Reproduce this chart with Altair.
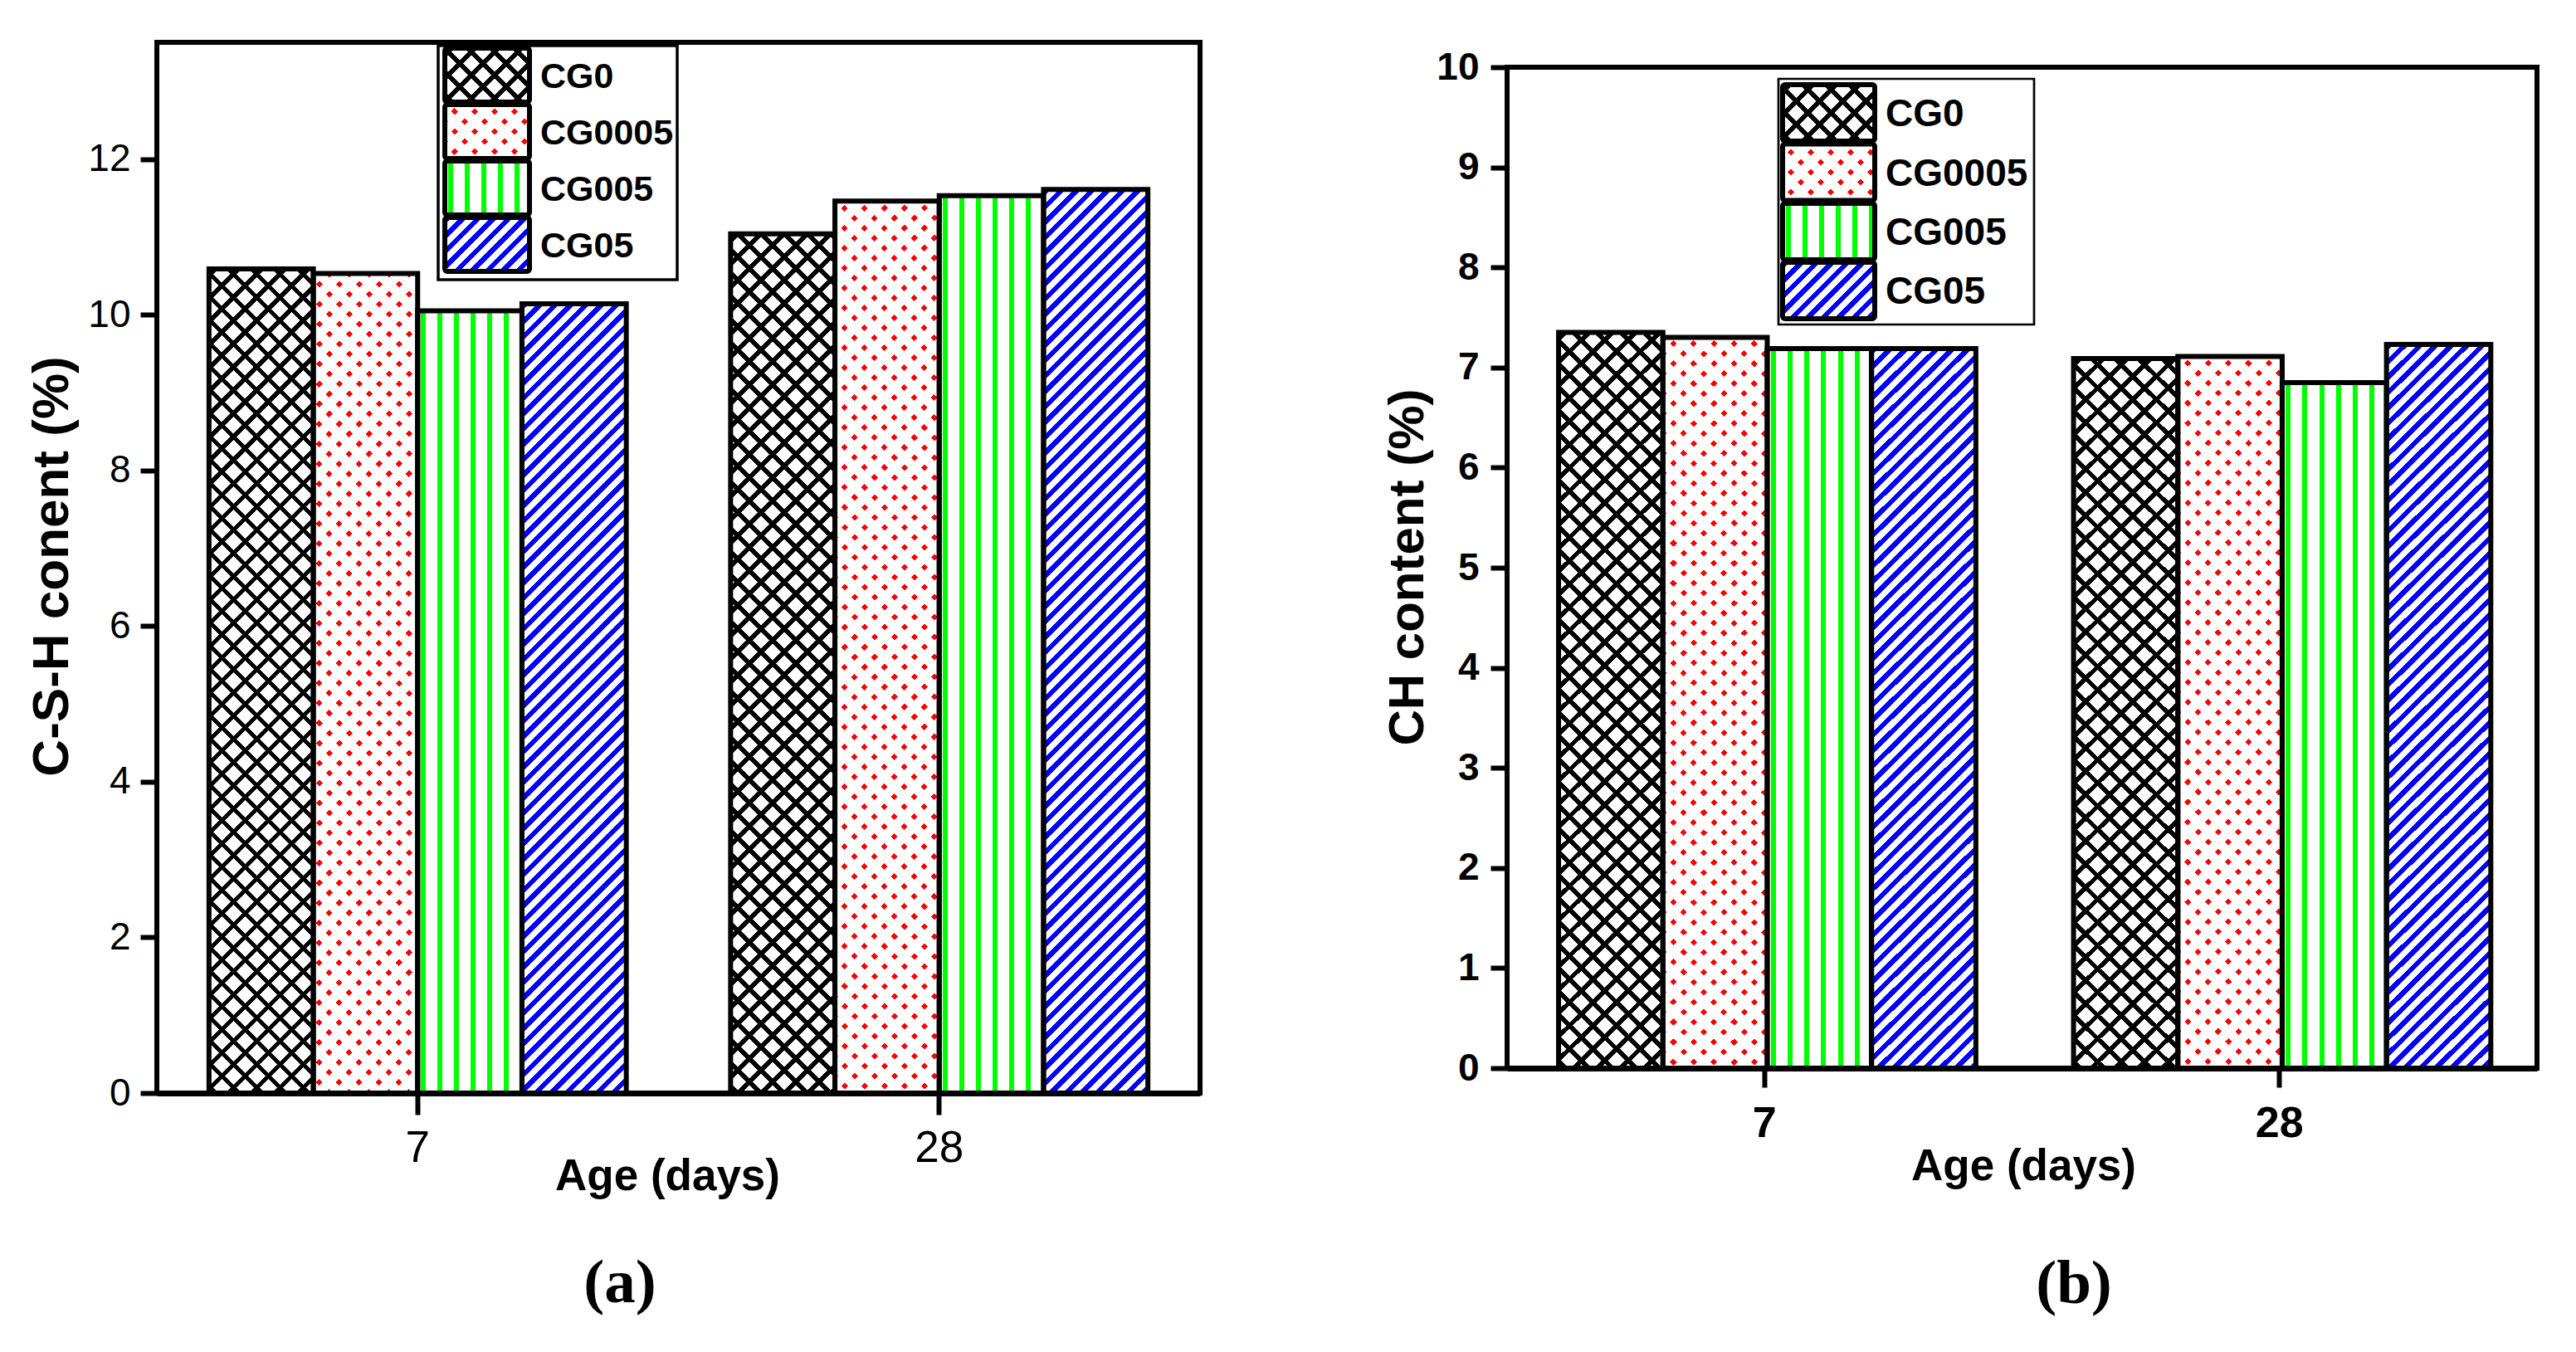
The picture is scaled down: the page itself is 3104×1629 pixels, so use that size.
import math
import altair as alt
import pandas as pd

# ---------------- data ----------------
AGES = ["7", "28"]
SERIES = ["CG0", "CG0005", "CG005", "CG05"]
CSH_AGE7 = [10.59, 10.53, 10.05, 10.14]
CSH_AGE28 = [11.04, 11.46, 11.53, 11.61]
CH_AGE7 = [7.35, 7.30, 7.19, 7.19]
CH_AGE28 = [7.09, 7.11, 6.85, 7.23]
CSH_TICKS = [0, 2, 4, 6, 8, 10, 12]
CH_TICKS = [0, 1, 2, 3, 4, 5, 6, 7, 8, 9, 10]
CSH_TITLE = "C-S-H conent (%)"
CH_TITLE = "CH content (%)"
X_TITLE = "Age (days)"
PANEL_TAGS = ["(a)", "(b)"]

# ---------------- style ----------------
SANS = "Liberation Sans, Arial, sans-serif"
SERIF = "Liberation Serif, DejaVu Serif, serif"
CLEAR = "rgba(255,255,255,0)"
BLACK = "#000000"
WHITE = "#ffffff"
RED = "#ff0000"
GREEN = "#00ff00"
BLUE = "#0000ff"


def band_stops(total, period, on, on_color, off_color, phase=0.0):
    def color_at(s):
        r = (s - phase) % period
        return on_color if r < on else off_color

    bounds = []
    k = math.floor(-phase / period) - 1
    while True:
        start = phase + k * period
        if start > total:
            break
        for b in (start, start + on):
            if 0 < b < total:
                bounds.append(b)
        k += 1
    bounds.sort()
    stops = [{"offset": 0, "color": color_at(0.0)}]
    for b in bounds:
        off = round(b / total, 6)
        stops.append({"offset": off, "color": color_at(b - 1e-6)})
        stops.append({"offset": off, "color": color_at(b + 1e-6)})
    stops.append({"offset": 1, "color": color_at(total - 1e-6)})
    return stops


def vstripes(w, period, on, on_c, off_c, phase):
    return {"gradient": "linear", "x1": 0, "y1": 0, "x2": 1, "y2": 0,
            "stops": band_stops(w, period, on, on_c, off_c, phase)}


def diag(w, h, period, on, on_c, off_c, phase, direction):
    S = (w + h) / math.sqrt(2)
    a = w / (w + h)
    b = h / (w + h)
    d = a * a + b * b
    if direction == "up":
        x1, y1, x2, y2 = 0, 0, a / d, b / d
    else:
        x1, y1, x2, y2 = 0, 1, a / d, 1 - b / d
    return {"gradient": "linear", "x1": x1, "y1": y1, "x2": x2, "y2": y2,
            "stops": band_stops(S, period, on, on_c, off_c, phase)}


def pattern_fills(series, w, h):
    if series == "CG0":
        return [WHITE,
                diag(w, h, 19.8, 5.5, BLACK, CLEAR, 3, "up"),
                diag(w, h, 19.8, 5.5, BLACK, CLEAR, 3, "down")]
    if series == "CG0005":
        return [RED,
                diag(w, h, 17.0, 11.3, WHITE, CLEAR, 0, "up"),
                diag(w, h, 17.0, 11.3, WHITE, CLEAR, 0, "down")]
    if series == "CG005":
        return [vstripes(w, 20.0, 6.0, GREEN, WHITE, 4.0)]
    return [diag(w, h, 13.1, 6.0, BLUE, WHITE, 0, "up")]


def panel(vals7, vals28, W, H, ymax, tag, tag_xy, leg, xaxis, yaxis):
    rows = []
    for a, vals in zip(AGES, [vals7, vals28]):
        for s, v in zip(SERIES, vals):
            rows.append({"age": a, "series": s, "value": v})
    df = pd.DataFrame(rows)
    bw = (W / 2 * 0.8) / 4
    ppu = H / ymax

    base = alt.Chart(df).encode(
        x=alt.X("age:N", sort=AGES,
                scale=alt.Scale(domain=AGES, paddingInner=0.2, paddingOuter=0.1),
                axis=xaxis),
        xOffset=alt.XOffset("series:N", sort=SERIES,
                            scale=alt.Scale(domain=SERIES, paddingInner=0, paddingOuter=0)),
        y=alt.Y("value:Q", scale=alt.Scale(domain=[0, ymax], nice=False, zero=True),
                axis=yaxis),
    )
    layers = []
    for r in rows:
        h = r["value"] * ppu
        for f in pattern_fills(r["series"], bw, h):
            layers.append(
                base.transform_filter(
                    (alt.datum.age == r["age"]) & (alt.datum.series == r["series"])
                ).mark_bar(fill=f, strokeWidth=0)
            )
    layers.append(base.mark_bar(fill=WHITE, fillOpacity=0, stroke=BLACK, strokeWidth=6))

    # legend
    ldf = pd.DataFrame({"series": SERIES})
    bx0, bx1, by0, by1, bsw = leg["box"]
    layers.append(
        alt.Chart(ldf).transform_filter(alt.datum.series == SERIES[0])
        .mark_rect(fill=WHITE, stroke=BLACK, strokeWidth=bsw)
        .encode(x=alt.value(bx0), x2=alt.value(bx1), y=alt.value(by0), y2=alt.value(by1))
    )
    sx0, sx1 = leg["sx"]
    sh = leg["sh"]
    for i, s in enumerate(SERIES):
        y0 = leg["sy"][i]
        for f in pattern_fills(s, sx1 - sx0, sh):
            layers.append(
                alt.Chart(ldf).transform_filter(alt.datum.series == s)
                .mark_rect(fill=f, strokeWidth=0)
                .encode(x=alt.value(sx0), x2=alt.value(sx1), y=alt.value(y0), y2=alt.value(y0 + sh))
            )
        layers.append(
            alt.Chart(ldf).transform_filter(alt.datum.series == s)
            .mark_rect(fill=WHITE, fillOpacity=0, stroke=BLACK, strokeWidth=6, cornerRadius=3)
            .encode(x=alt.value(sx0), x2=alt.value(sx1), y=alt.value(y0), y2=alt.value(y0 + sh))
        )
        layers.append(
            alt.Chart(ldf).transform_filter(alt.datum.series == s)
            .mark_text(align="left", baseline="middle", font=SANS, fontSize=leg["fs"],
                       fontWeight="bold", color=BLACK)
            .encode(x=alt.value(leg["lx"]), y=alt.value(y0 + sh / 2 + 2), text="series:N")
        )
    # panel tag
    layers.append(
        alt.Chart(pd.DataFrame({"tag": [tag]}))
        .mark_text(font=SERIF, fontSize=75, fontWeight="bold", align="center",
                   baseline="middle", color=BLACK)
        .encode(x=alt.value(tag_xy[0]), y=alt.value(tag_xy[1]), text="tag:N")
    )
    return alt.layer(*layers).properties(width=W, height=H)


common_axis = dict(grid=False, labelColor=BLACK, tickColor=BLACK, domainColor=BLACK,
                   titleColor=BLACK, labelFont=SANS, titleFont=SANS,
                   titleFontWeight="bold", titleAlign="center", titleBaseline="middle")

left_x = alt.Axis(title=X_TITLE, labelAngle=0, labelFontSize=53, labelFontWeight="normal",
                  labelPadding=14, tickSize=26, tickWidth=6, domainWidth=7,
                  titleFontSize=53, titleX=615, titleY=100, **common_axis)
left_y = alt.Axis(values=CSH_TICKS, title=CSH_TITLE, labelFontSize=46, labelFontWeight="normal",
                  labelPadding=12, tickSize=20, tickWidth=6, domainWidth=5,
                  titleFontSize=62, titleX=-127, titleY=631, titleAngle=270, **common_axis)
right_x = alt.Axis(title=X_TITLE, labelAngle=0, labelFontSize=52, labelFontWeight="bold",
                   labelPadding=18, tickSize=23, tickWidth=6, domainWidth=7,
                   titleFontSize=53, titleX=622, titleY=118, **common_axis)
right_y = alt.Axis(values=CH_TICKS, title=CH_TITLE, labelFontSize=46, labelFontWeight="bold",
                   labelPadding=14, tickSize=20, tickWidth=6, domainWidth=5,
                   titleFontSize=60, titleX=-120, titleY=602, titleAngle=270, **common_axis)

left_leg = {"box": (339, 627, 4, 286, 3.5), "sx": (347, 449), "sh": 65,
            "sy": [7, 75, 143, 211], "lx": 462, "fs": 43}
right_leg = {"box": (327, 635, 14, 310, 2.7), "sx": (332, 443), "sh": 68,
             "sy": [21, 92.5, 164, 235], "lx": 456, "fs": 46}

left = panel(CSH_AGE7, CSH_AGE28, 1257, 1266, 13.5,
             PANEL_TAGS[0], (558, 1495), left_leg, left_x, left_y)
right = panel(CH_AGE7, CH_AGE28, 1241, 1206, 10.0,
              PANEL_TAGS[1], (683, 1466), right_leg, right_x, right_y)

chart = alt.hconcat(left, right, spacing=370, bounds="flush", center=True).properties(
    padding={"left": 20, "top": 40, "right": 10, "bottom": 10},
    background="white",
).configure_view(stroke=BLACK, strokeWidth=6)

chart.save("out.html", embed_options={"renderer": "svg", "actions": False})
